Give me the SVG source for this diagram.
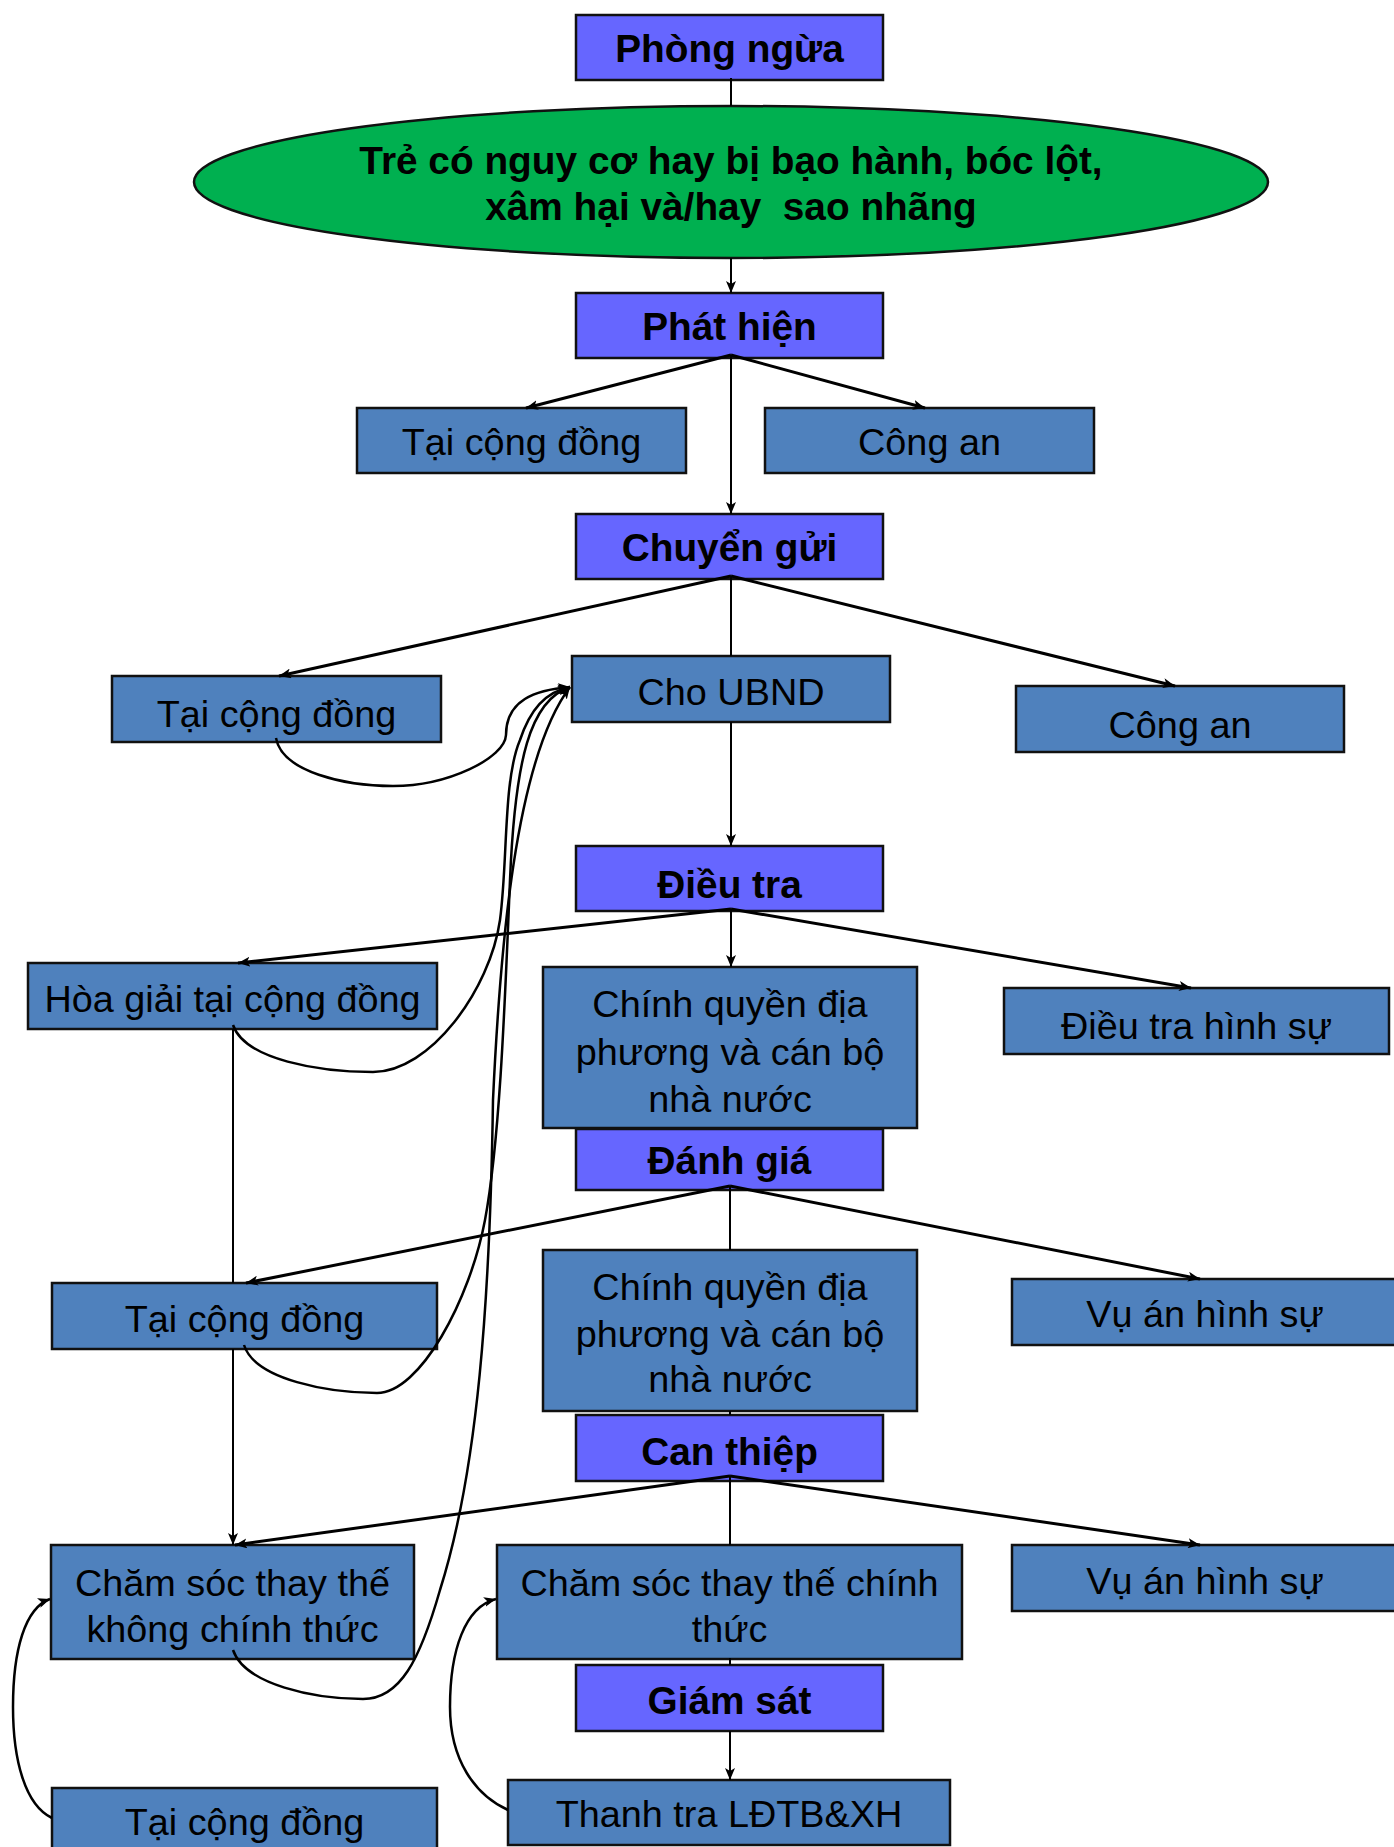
<svg xmlns="http://www.w3.org/2000/svg" width="1394" height="1847" viewBox="0 0 1394 1847">
<defs>
<style>
.box{fill:#4F81BD;stroke:#111;stroke-width:2.5}
.hdr{fill:#6666FF;stroke:#111;stroke-width:2.5}
.ell{fill:#00B050;stroke:#111;stroke-width:2.5}
text{font-family:"Liberation Sans",Arial,sans-serif;fill:#000;text-anchor:middle}
.t{font-size:37.8px}
.b{font-size:38.8px;font-weight:bold}
.ln{fill:none;stroke:#000;stroke-width:2}
.dg{fill:none;stroke:#000;stroke-width:3}
.cv{fill:none;stroke:#000;stroke-width:2.5}
</style>
<marker id="ah" viewBox="0 0 12 10" refX="12" refY="5" markerWidth="12" markerHeight="10" markerUnits="userSpaceOnUse" orient="auto">
<path d="M0,0 L12,5 L0,10 L3,5 z" fill="#000"/>
</marker>
</defs>
<rect width="1394" height="1847" fill="#fff"/>
<g id="nodes">
<g id="n_phongngua"><rect class="hdr" x="576" y="15" width="307" height="65"/><text class="b" x="729.5" y="62">Phòng ngừa</text></g>
<g id="n_treconguyco"><ellipse class="ell" cx="731" cy="182" rx="537" ry="76"/><text class="b" x="731" y="174">Trẻ có nguy cơ hay bị bạo hành, bóc lột,</text><text class="b" x="731" y="220" xml:space="preserve">xâm hại và/hay  sao nhãng</text></g>
<g id="n_phathien"><rect class="hdr" x="576" y="293" width="307" height="65"/><text class="b" x="729.5" y="340">Phát hiện</text></g>
<g id="n_taicongdong1"><rect class="box" x="357" y="408" width="329" height="65"/><text class="t" x="521.5" y="455">Tại cộng đồng</text></g>
<g id="n_congan1"><rect class="box" x="765" y="408" width="329" height="65"/><text class="t" x="929.5" y="455">Công an</text></g>
<g id="n_chuyengui"><rect class="hdr" x="576" y="514" width="307" height="65"/><text class="b" x="729.5" y="561">Chuyển gửi</text></g>
<g id="n_taicongdong2"><rect class="box" x="112" y="676" width="329" height="66"/><text class="t" x="276.5" y="727">Tại cộng đồng</text></g>
<g id="n_choubnd"><rect class="box" x="572" y="656" width="318" height="66"/><text class="t" x="731" y="705">Cho UBND</text></g>
<g id="n_congan2"><rect class="box" x="1016" y="686" width="328" height="66"/><text class="t" x="1180" y="738">Công an</text></g>
<g id="n_dieutra"><rect class="hdr" x="576" y="846" width="307" height="65"/><text class="b" x="729.5" y="898">Điều tra</text></g>
<g id="n_hoagiai"><rect class="box" x="28" y="963" width="409" height="66"/><text class="t" x="232.5" y="1012">Hòa giải tại cộng đồng</text></g>
<g id="n_chinhquyen1"><rect class="box" x="543" y="967" width="374" height="161"/><text class="t" x="730" y="1017">Chính quyền địa</text><text class="t" x="730" y="1065">phương và cán bộ</text><text class="t" x="730" y="1112">nhà nước</text></g>
<g id="n_dieutrahinhsu"><rect class="box" x="1004" y="988" width="385" height="66"/><text class="t" x="1196.5" y="1039">Điều tra hình sự</text></g>
<g id="n_danhgia"><rect class="hdr" x="576" y="1129" width="307" height="61"/><text class="b" x="729.5" y="1174">Đánh giá</text></g>
<g id="n_taicongdong3"><rect class="box" x="52" y="1283" width="385" height="66"/><text class="t" x="244.5" y="1332">Tại cộng đồng</text></g>
<g id="n_chinhquyen2"><rect class="box" x="543" y="1250" width="374" height="161"/><text class="t" x="730" y="1300">Chính quyền địa</text><text class="t" x="730" y="1347">phương và cán bộ</text><text class="t" x="730" y="1392">nhà nước</text></g>
<g id="n_vuan1"><rect class="box" x="1012" y="1279" width="386" height="66"/><text class="t" x="1205" y="1327">Vụ án hình sự</text></g>
<g id="n_canthiep"><rect class="hdr" x="576" y="1415" width="307" height="66"/><text class="b" x="729.5" y="1465">Can thiệp</text></g>
<g id="n_chamsockct"><rect class="box" x="51" y="1545" width="363" height="114"/><text class="t" x="232.5" y="1596">Chăm sóc thay thế</text><text class="t" x="232.5" y="1642">không chính thức</text></g>
<g id="n_chamsocct"><rect class="box" x="497" y="1545" width="465" height="114"/><text class="t" x="729.5" y="1596">Chăm sóc thay thế chính</text><text class="t" x="729.5" y="1642">thức</text></g>
<g id="n_vuan2"><rect class="box" x="1012" y="1545" width="386" height="66"/><text class="t" x="1205" y="1594">Vụ án hình sự</text></g>
<g id="n_giamsat"><rect class="hdr" x="576" y="1665" width="307" height="66"/><text class="b" x="729.5" y="1714">Giám sát</text></g>
<g id="n_thanhtra"><rect class="box" x="508" y="1780" width="442" height="65"/><text class="t" x="729" y="1827">Thanh tra LĐTB&amp;XH</text></g>
<g id="n_taicongdong4"><rect class="box" x="52" y="1788" width="385" height="80"/><text class="t" x="244.5" y="1835">Tại cộng đồng</text></g>
</g>
<g id="connectors">
<line class="ln" x1="731" y1="78" x2="731" y2="106"/>
<line class="ln" x1="731" y1="258" x2="731" y2="293" marker-end="url(#ah)"/>
<line class="dg" x1="731" y1="355" x2="526" y2="408" marker-end="url(#ah)"/>
<line class="dg" x1="731" y1="355" x2="925" y2="408" marker-end="url(#ah)"/>
<line class="ln" x1="731" y1="355" x2="731" y2="514" marker-end="url(#ah)"/>
<line class="dg" x1="731" y1="576" x2="279" y2="676" marker-end="url(#ah)"/>
<line class="dg" x1="731" y1="576" x2="1175" y2="686" marker-end="url(#ah)"/>
<line class="ln" x1="731" y1="576" x2="731" y2="656"/>
<line class="ln" x1="731" y1="722" x2="731" y2="846" marker-end="url(#ah)"/>
<line class="dg" x1="731" y1="909" x2="238" y2="963" marker-end="url(#ah)"/>
<line class="ln" x1="731" y1="909" x2="731" y2="967" marker-end="url(#ah)"/>
<line class="dg" x1="731" y1="909" x2="1191" y2="988" marker-end="url(#ah)"/>
<line class="dg" x1="730" y1="1186" x2="246" y2="1283" marker-end="url(#ah)"/>
<line class="dg" x1="730" y1="1186" x2="1200" y2="1279" marker-end="url(#ah)"/>
<line class="ln" x1="730" y1="1186" x2="730" y2="1250"/>
<line class="ln" x1="730" y1="1411" x2="730" y2="1415"/>
<line class="dg" x1="730" y1="1476" x2="235" y2="1545" marker-end="url(#ah)"/>
<line class="dg" x1="730" y1="1476" x2="1200" y2="1545" marker-end="url(#ah)"/>
<line class="ln" x1="730" y1="1476" x2="730" y2="1545"/>
<line class="ln" x1="730" y1="1658" x2="730" y2="1665"/>
<line class="ln" x1="730" y1="1731" x2="730" y2="1780" marker-end="url(#ah)"/>
<line class="ln" x1="233" y1="1029" x2="233" y2="1283"/>
<line class="ln" x1="233" y1="1349" x2="233" y2="1545" marker-end="url(#ah)"/>
<path class="cv" d="M276,738 C282,772 345,786 393,786 C448,786 505,758 506,735 C506,700 535,690 570,687" marker-end="url(#ah)"/>
<path class="cv" d="M233,1025 C245,1060 320,1072 373,1072 C430,1072 490,990 500,920 C508,860 503,780 520,740 C530,710 545,692 570,687" marker-end="url(#ah)"/>
<path class="cv" d="M244,1345 C255,1380 330,1393 377,1393 C420,1393 470,1300 485,1220 C500,1140 505,1000 510,880 C515,760 530,700 570,687" marker-end="url(#ah)"/>
<path class="cv" d="M233,1650 C245,1685 315,1699 363,1699 C400,1699 420,1660 440,1590 C478,1470 490,1300 493,1100 C500,950 515,760 570,687" marker-end="url(#ah)"/>
<path class="cv" d="M52,1818 C25,1805 13,1760 13,1707 C13,1650 25,1608 50,1599" marker-end="url(#ah)"/>
<path class="cv" d="M508,1810 C475,1795 450,1760 450,1707 C450,1650 465,1607 496,1599" marker-end="url(#ah)"/>
</g>
</svg>
